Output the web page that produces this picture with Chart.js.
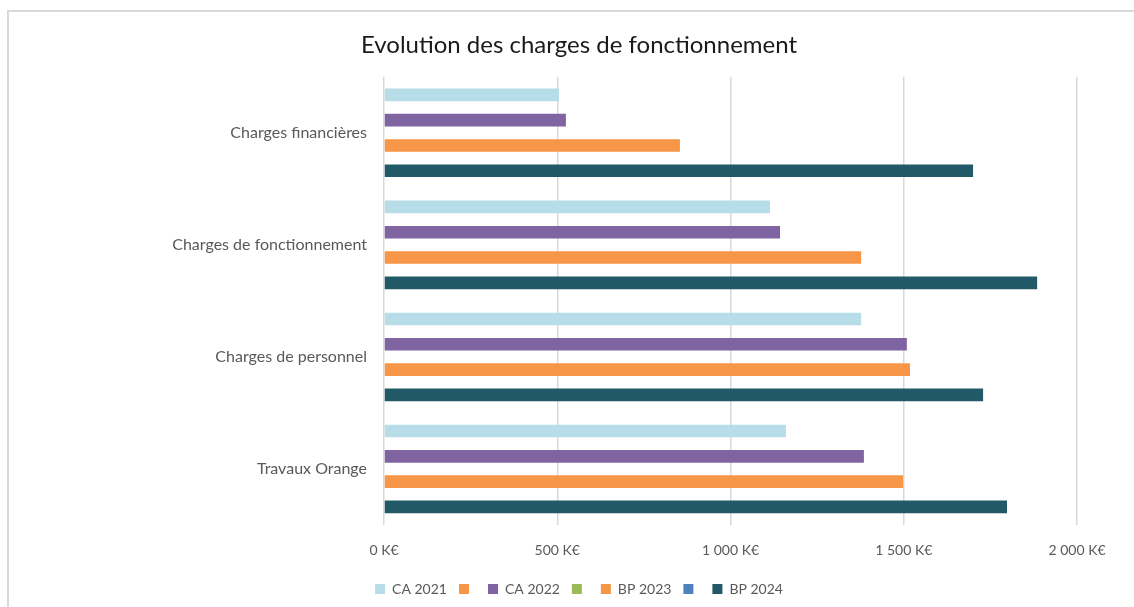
<!DOCTYPE html>
<html>
<head>
<meta charset="utf-8">
<script src="https://cdn.jsdelivr.net/npm/chart.js@4"></script>
<style>
  html, body { margin: 0; padding: 0; background: #fff; }
  #wrap { position: relative; width: 1134px; height: 607px; overflow: hidden; }
  #frame { position: absolute; left: 7px; top: 10px; width: 1140px; height: 610px;
           border-left: 2px solid #d9d9d9; border-top: 2px solid #d9d9d9; }
  #chart { position: absolute; left: 0; top: 0; }
</style>
</head>
<body>
<div id="wrap">
  <div id="frame"></div>
  <canvas id="chart" width="1134" height="607"></canvas>
</div>
<script>
// categories, top to bottom
const categories = ["Charges financières", "Charges de fonctionnement", "Charges de personnel", "Travaux Orange"];

// values in K€
const ca2021 = [505, 1114, 1377, 1160];
const ca2022 = [525, 1143, 1509, 1385];
const bp2023 = [854, 1377, 1518, 1498];
const bp2024 = [1700, 1885, 1729, 1798];
const emptySeries = [null, null, null, null];

const xTicks = [0, 500, 1000, 1500, 2000];

const font = "Lato, 'Liberation Sans', sans-serif";
const grey = "#595959";

function kEuro(v) {
  return String(v).replace(/\B(?=(\d{3})+(?!\d))/g, " ") + " K€";
}

new Chart(document.getElementById("chart"), {
  type: "bar",
  data: {
    labels: categories,
    datasets: [
      { label: "CA 2021", data: ca2021, backgroundColor: "#b7dee8" },
      { label: "", data: emptySeries, backgroundColor: "#f79646" },
      { label: "CA 2022", data: ca2022, backgroundColor: "#8064a2" },
      { label: "", data: emptySeries, backgroundColor: "#9bbb59" },
      { label: "BP 2023", data: bp2023, backgroundColor: "#f79646" },
      { label: "", data: emptySeries, backgroundColor: "#4f81bd" },
      { label: "BP 2024", data: bp2024, backgroundColor: "#215968" }
    ]
  },
  options: {
    responsive: false,
    animation: false,
    indexAxis: "y",
    datasets: {
      bar: { barPercentage: 1.0, categoryPercentage: 0.79 }
    },
    layout: {
      padding: { left: 81, right: 57, top: 0, bottom: 1 }
    },
    plugins: {
      title: {
        display: true,
        text: "Evolution des charges de fonctionnement",
        color: "#1a1a1a",
        font: { family: font, size: 24, weight: "normal" },
        padding: { top: 31, bottom: 17 }
      },
      legend: {
        position: "bottom",
        labels: {
          color: grey,
          font: { family: font, size: 14 },
          boxWidth: 10,
          boxHeight: 10,
          padding: 12
        }
      },
      tooltip: { enabled: false }
    },
    scales: {
      x: {
        min: 0,
        max: 2000,
        afterBuildTicks: (scale) => { scale.ticks = xTicks.map(v => ({ value: v })); },
        afterFit: (scale) => { scale.height = 45; },
        grid: { color: "#d9d9d9", lineWidth: 1.5, drawTicks: false },
        border: { display: false },
        ticks: {
          color: grey,
          font: { family: font, size: 14 },
          padding: 17,
          callback: (v) => kEuro(v)
        }
      },
      y: {
        afterFit: (scale) => { scale.width = 303; },
        grid: { display: false, drawTicks: false },
        border: { display: false },
        ticks: {
          color: grey,
          font: { family: font, size: 16 },
          padding: 17
        }
      }
    }
  }
});
</script>
</body>
</html>
